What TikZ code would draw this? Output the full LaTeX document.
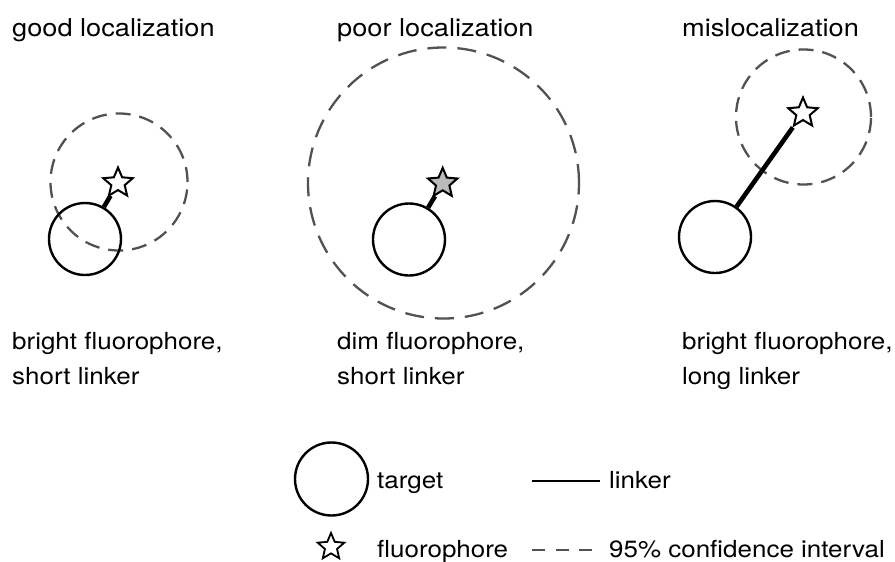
\documentclass[tikz,border=0pt]{standalone}
\usepackage{fontspec}
\setmainfont[FakeStretch=1.105]{TeX Gyre Heros}
\usetikzlibrary{shapes.geometric}
\begin{document}
\begin{tikzpicture}[x=1pt,y=-1pt,
  label/.style={anchor=base west,inner sep=0pt,font=\fontsize{23.5}{28}\selectfont},
  heading/.style={label,font=\fontsize{24.6}{29}\selectfont},
  target/.style={circle,draw,line width=2.4pt,minimum size=72pt,inner sep=0pt},
  fluor/.style={star,star points=5,star point ratio=2.2,draw,line width=2pt,
    fill=white,minimum size=31pt,inner sep=0pt},
  confint/.style={circle,draw=black!68,line width=2.3pt,inner sep=0pt,
    dash pattern=on 15pt off 9pt},
  linker/.style={line width=4.6pt}]
\useasboundingbox (0,0) rectangle (895,562);

% panel titles
\node[heading] (h1) at (12,36) {good localization};
\node[heading] (h2) at (337,36) {poor localization};
\node[heading] (h3) at (682,36) {mislocalization};

% good localization: bright fluorophore, short linker
\node[confint,minimum size=137pt] (ci1) at (119,182) {};
\node[target] (t1) at (85,239) {};
\node[fluor] (s1) at (118,183) {};
\draw[linker] (t1) -- (s1);

% poor localization: dim fluorophore, short linker
\node[confint,minimum size=271pt,dash pattern=on 19pt off 11pt] (ci2) at (443.5,183) {};
\node[target] (t2) at (409,239.5) {};
\node[fluor,fill=black!27] (s2) at (442.7,183.3) {};
\draw[linker] (t2) -- (s2);

% mislocalization: bright fluorophore, long linker
\node[confint,minimum size=135pt] (ci3) at (803.5,117) {};
\node[target] (t3) at (715,237) {};
\node[fluor] (s3) at (803,113) {};
\draw[linker] (t3) -- (s3);

% captions
\node[label] (c1a) at (12,349) {bright fluorophore,};
\node[label] (c1b) at (12,384) {short linker};
\node[label] (c2a) at (337,349) {dim fluorophore,};
\node[label] (c2b) at (337,384) {short linker};
\node[label] (c3a) at (682,349) {bright fluorophore,};
\node[label] (c3b) at (682,384) {long linker};

% legend
\node[target,minimum size=73pt] (lt) at (331.5,479) {};
\node[label] (ltx) at (377,488) {target};
\coordinate (la) at (532,481);
\coordinate (lb) at (600,481);
\draw[line width=2.6pt] (la) -- (lb);
\node[label] (llx) at (609,488) {linker};
\node[fluor,minimum size=28pt,line width=1.8pt] (ls) at (331,547) {};
\node[label] (lsx) at (377,557) {fluorophore};
\coordinate (lc) at (532,550);
\coordinate (ld) at (600,550);
\draw[draw=black!68,line width=2.3pt,dash pattern=on 13pt off 10.5pt] (lc) -- (ld);
\node[label] (lcx) at (609,557) {95\% confidence interval};
\end{tikzpicture}
\end{document}
